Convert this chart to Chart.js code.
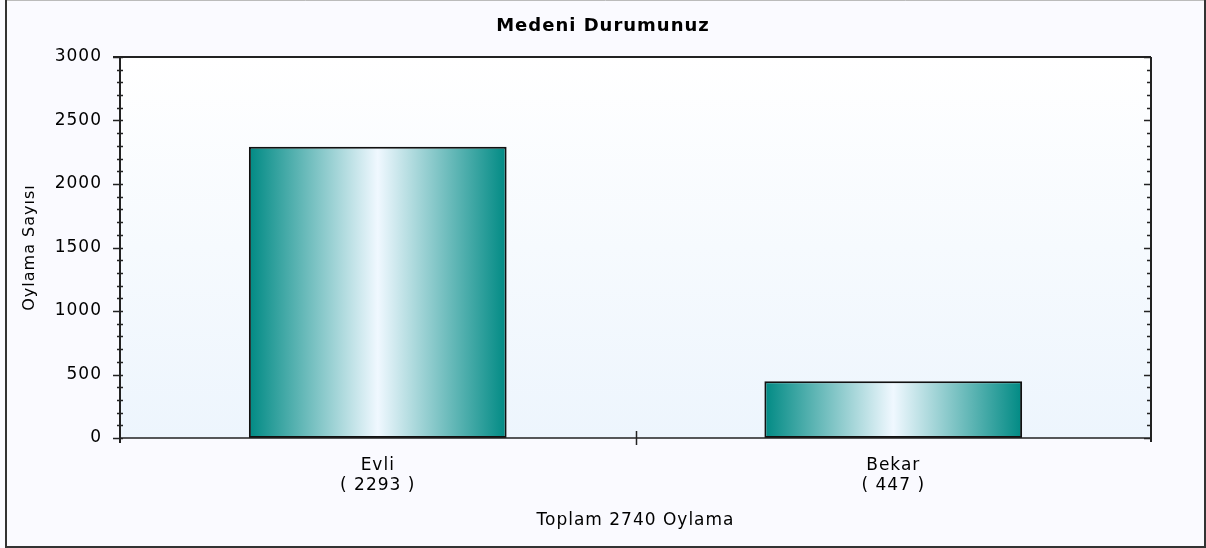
<!DOCTYPE html>
<html>
<head>
<meta charset="utf-8">
<script src="https://cdn.jsdelivr.net/npm/chart.js@4"></script>
<style>
  html, body { margin: 0; padding: 0; background: #fafaff; }
  #kutu { width: 1206px; height: 548px; }
</style>
</head>
<body>
<div id="kutu"><canvas id="grafikMedeni" width="1206" height="548"></canvas></div>
<script>
// Veriler
const kategoriler = ['Evli', 'Bekar'];
const oySayilari = [2293, 447];
const toplamOy = 2740;
const yMin = 0, yMax = 3000, yAdim = 500, yAraAdim = 100;

const yazi = 'DejaVu Sans';

// Cubuklar icin yatay gradyan (kenarlar camgobegi, orta beyaz)
function cubukRengi(ctx) {
    const chart = ctx.chart;
    const x = chart.scales.x;
    if (!x || ctx.dataIndex === undefined) return '#0a8a84';
    const orta = x.getPixelForValue(ctx.dataIndex);
    const gen = x.width / kategoriler.length * 0.5;
    if (!isFinite(orta) || !isFinite(gen) || gen <= 0) return '#0a8a84';
    const g = chart.ctx.createLinearGradient(orta - gen / 2, 0, orta + gen / 2, 0);
    g.addColorStop(0, '#008a84');
    g.addColorStop(0.5, '#f0f8ff');
    g.addColorStop(1, '#008a84');
    return g;
}

// Arka plan, cerceve ve tik isaretleri
const cerceve = {
    id: 'cerceve',
    beforeDraw(chart) {
        const c = chart.ctx, a = chart.chartArea;
        c.letterSpacing = '1px';
        c.save();
        c.fillStyle = '#fafaff';
        c.fillRect(0, 0, chart.width, chart.height);
        const g = c.createLinearGradient(0, a.top, 0, a.bottom);
        g.addColorStop(0, '#ffffff');
        g.addColorStop(1, '#edf5fd');
        c.fillStyle = g;
        c.fillRect(a.left, a.top, a.right - a.left, a.bottom - a.top);
        // dis cerceve
        c.strokeStyle = '#bbbbbb';
        c.lineWidth = 1;
        c.beginPath(); c.moveTo(6, 0.5); c.lineTo(1205, 0.5); c.stroke();
        c.strokeStyle = '#333333';
        c.lineWidth = 2;
        c.beginPath();
        c.moveTo(6, 0); c.lineTo(6, 547);
        c.lineTo(1205, 547); c.lineTo(1205, 0);
        c.stroke();
        c.restore();
    },
    afterDatasetsDraw(chart) {
        const c = chart.ctx, a = chart.chartArea;
        const y = chart.scales.y, x = chart.scales.x;
        c.save();
        c.strokeStyle = '#222222';
        c.lineWidth = 2;
        c.beginPath();
        c.moveTo(a.left - 7, a.top); c.lineTo(a.right, a.top);
        c.moveTo(a.left, a.top); c.lineTo(a.left, a.bottom + 5);
        c.moveTo(a.right, a.top); c.lineTo(a.right, a.bottom + 4);
        c.stroke();
        c.lineWidth = 1.5;
        c.beginPath();
        c.moveTo(a.left, a.bottom); c.lineTo(a.right, a.bottom);
        for (let v = yMin; v <= yMax; v += yAraAdim) {
            const py = Math.round(y.getPixelForValue(v)) + 0.5;
            const buyuk = v % yAdim === 0;
            c.moveTo(a.left - (buyuk ? 7 : 3), py); c.lineTo(a.left + 3, py);
            c.moveTo(a.right - (buyuk ? 7 : 4), py); c.lineTo(a.right, py);
        }
        for (let i = 0; i < kategoriler.length - 1; i++) {
            const px = Math.round((x.getPixelForValue(i) + x.getPixelForValue(i + 1)) / 2) + 0.5;
            c.moveTo(px, a.bottom - 7); c.lineTo(px, a.bottom + 7);
        }
        c.stroke();
        c.restore();
    }
};

new Chart(document.getElementById('grafikMedeni'), {
    type: 'bar',
    data: {
        labels: kategoriler.map((k, i) => [k, '( ' + oySayilari[i] + ' )']),
        datasets: [{
            data: oySayilari,
            backgroundColor: cubukRengi,
            borderColor: '#111111',
            borderWidth: 2,
            borderSkipped: false,
            categoryPercentage: 1,
            barPercentage: 0.5
        }]
    },
    options: {
        responsive: false,
        animation: false,
        layout: { padding: 0 },
        plugins: {
            legend: { display: false },
            tooltip: { enabled: false },
            title: {
                display: true,
                text: 'Medeni Durumunuz',
                color: '#000',
                font: { family: yazi, size: 18, weight: 'bold', lineHeight: 1.2 },
                padding: { top: 16, bottom: 19.4 }
            }
        },
        scales: {
            x: {
                grid: { display: false, drawTicks: false },
                border: { display: false },
                ticks: {
                    color: '#000',
                    padding: 18,
                    font: { family: yazi, size: 17, lineHeight: '20px' }
                },
                title: {
                    display: true,
                    text: 'Toplam ' + toplamOy + ' Oylama',
                    color: '#000',
                    font: { family: yazi, size: 17, lineHeight: 1.2 },
                    padding: { top: 0, bottom: 17 }
                },
                afterFit(s) { s.height = 110; }
            },
            y: {
                min: yMin,
                max: yMax,
                grid: { display: false, drawTicks: false },
                border: { display: false },
                ticks: {
                    stepSize: yAdim,
                    color: '#000',
                    padding: 18,
                    font: { family: yazi, size: 17 },
                    callback: v => String(v)
                },
                title: {
                    display: true,
                    text: 'Oylama Sayısı',
                    color: '#000',
                    font: { family: yazi, size: 16, lineHeight: 1.2 },
                    padding: { top: 20, bottom: 0 }
                },
                afterFit(s) { s.width = 120; }
            },
            sag: {
                position: 'right',
                grid: { display: false, drawTicks: false },
                border: { display: false },
                ticks: { display: false },
                afterFit(s) { s.width = 55; }
            }
        }
    },
    plugins: [cerceve]
});
</script>
</body>
</html>
